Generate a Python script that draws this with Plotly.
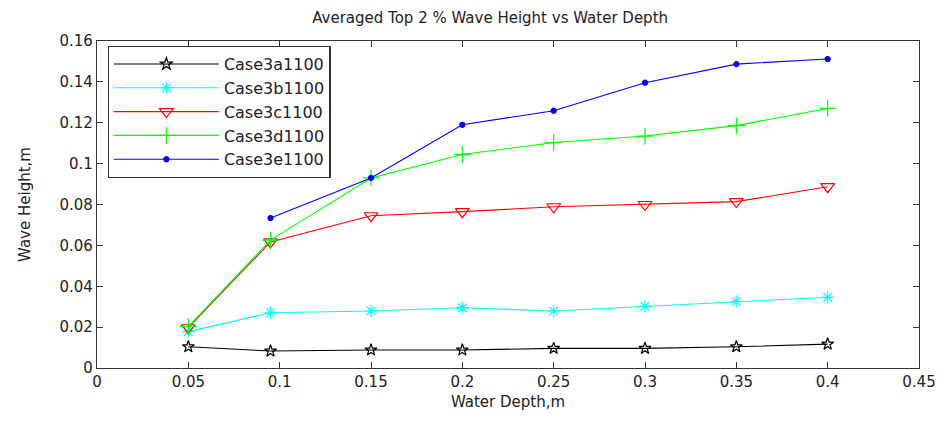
import plotly.graph_objects as go

# Water depth (m) sampled in each run
depth = [0.05, 0.095, 0.15, 0.2, 0.25, 0.3, 0.35, 0.4]
depth_e = [0.095, 0.15, 0.2, 0.25, 0.3, 0.35, 0.4]

# Averaged top 2 % wave height (m)
case3a = [0.0104, 0.0083, 0.0088, 0.0088, 0.0096, 0.0096, 0.0104, 0.0117]
case3b = [0.0178, 0.0270, 0.0279, 0.0295, 0.0279, 0.0302, 0.0326, 0.0346]
case3c = [0.0197, 0.0617, 0.0745, 0.0765, 0.0789, 0.0800, 0.0814, 0.0887]
case3d = [0.0202, 0.0626, 0.0930, 0.1045, 0.1103, 0.1135, 0.1186, 0.1270]
case3e = [0.0734, 0.0930, 0.1190, 0.1259, 0.1396, 0.1487, 0.1512]

x_ticks = [0, 0.05, 0.1, 0.15, 0.2, 0.25, 0.3, 0.35, 0.4, 0.45]
x_labels = ["0", "0.05", "0.1", "0.15", "0.2", "0.25", "0.3", "0.35", "0.4", "0.45"]
y_ticks = [0, 0.02, 0.04, 0.06, 0.08, 0.1, 0.12, 0.14, 0.16]
y_labels = ["0", "0.02", "0.04", "0.06", "0.08", "0.1", "0.12", "0.14", "0.16"]

FONT = "DejaVu Sans, Liberation Sans, sans-serif"
TXT = "#222222"

series = [
    ("Case3a1100", depth, case3a, "#000000", "star-open", 9),
    ("Case3b1100", depth, case3b, "#00FFFF", "asterisk-open", 10),
    ("Case3c1100", depth, case3c, "#FF0000", "triangle-down-open", 12),
    ("Case3d1100", depth, case3d, "#00FF00", "cross-thin-open", 12),
    ("Case3e1100", depth_e, case3e, "#0000FF", "circle", 5),
]

fig = go.Figure()
for name, xs, ys, color, symbol, size in series:
    fig.add_trace(go.Scatter(
        x=xs, y=ys, name=name, mode="lines+markers",
        line=dict(color=color, width=1.1),
        marker=dict(symbol=symbol, size=size, color=color,
                    line=dict(color=color, width=1.2)),
    ))

axis_common = dict(
    showline=True, linecolor="#333333", linewidth=1.2, mirror="ticks",
    ticks="inside", ticklen=6, tickcolor="#333333", tickwidth=1.2,
    showgrid=False, zeroline=False,
    tickfont=dict(family=FONT, size=15, color=TXT),
)

fig.update_layout(
    width=948, height=424,
    margin=dict(l=97, r=25, t=41, b=56),
    paper_bgcolor="white", plot_bgcolor="white",
    title=dict(text="Averaged Top 2 % Wave Height vs Water Depth",
               x=0.517, xanchor="center", y=0.958, yanchor="middle",
               font=dict(family=FONT, size=15, color=TXT)),
    xaxis=dict(range=[0, 0.45], tickvals=x_ticks, ticktext=x_labels,
               title=dict(text="Water Depth,m", standoff=6,
                          font=dict(family=FONT, size=15, color=TXT)),
               **axis_common),
    yaxis=dict(range=[0, 0.16], tickvals=y_ticks, ticktext=y_labels,
               title=dict(text="Wave Height,m", standoff=25,
                          font=dict(family=FONT, size=15, color=TXT)),
               **axis_common),
    legend=dict(x=0.013, y=0.985, xanchor="left", yanchor="top",
                bgcolor="white", bordercolor="#333333", borderwidth=1.2,
                font=dict(family=FONT, size=16, color=TXT),
                tracegroupgap=0, itemwidth=105),
    showlegend=True,
)

fig.write_html("out.html")
